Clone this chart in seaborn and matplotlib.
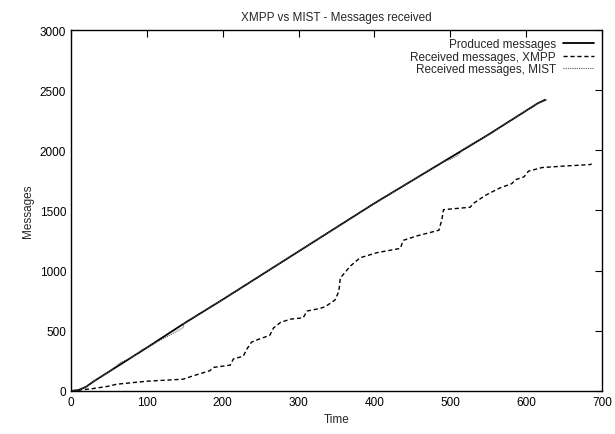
import numpy as np
import pandas as pd
import matplotlib
matplotlib.use("Agg")
import matplotlib.pyplot as plt
import seaborn as sns

# ---- data ----
prod_t = [0, 10, 20, 30, 50, 100, 150, 200, 250, 300, 350, 400, 450, 500, 550, 600, 615, 625]
prod_v = [0, 8, 35, 80, 160, 360, 565, 760, 960, 1160, 1360, 1560, 1750, 1940, 2130, 2330, 2390, 2420]

xmpp_t = [0, 29, 50, 60, 100, 148, 161, 183, 188, 210, 214, 227, 232, 238, 249, 262, 267, 276,
          289, 306, 311, 328, 335, 348, 353, 355, 368, 381, 403, 434, 438, 456, 485, 489, 491,
          526, 531, 546, 557, 566, 581, 586, 597, 603, 621, 654, 672, 685, 686]
xmpp_v = [0, 20, 40, 56, 81, 98, 126, 168, 196, 215, 266, 289, 350, 406, 434, 462, 524, 569,
          597, 608, 664, 686, 700, 756, 827, 939, 1037, 1107, 1149, 1185, 1252, 1289, 1336, 1429, 1507,
          1527, 1561, 1625, 1661, 1689, 1723, 1756, 1779, 1827, 1857, 1871, 1877, 1882, 1890]

mist_t = [0, 10, 20, 30, 50, 65, 75, 85, 92, 100, 120, 135, 148, 149, 200, 250, 300, 350, 400,
          450, 490, 500, 510, 517, 550, 600, 615, 628]
mist_v = [0, 8, 35, 80, 160, 235, 265, 300, 335, 360, 430, 480, 527, 565, 760, 960, 1160, 1360, 1560,
          1750, 1905, 1925, 1960, 2010, 2130, 2330, 2390, 2420]

labels = ["Produced messages", "Received messages, XMPP", "Received messages, MIST"]
x_ticks = [0, 100, 200, 300, 400, 500, 600, 700]
y_ticks = [0, 500, 1000, 1500, 2000, 2500, 3000]

sns.set_style("white")
plt.rcParams['font.family'] = ['Liberation Sans', 'DejaVu Sans']
plt.rcParams['font.size'] = 8.5

fig = plt.figure(figsize=(6.15, 4.35), dpi=100)
ax = fig.add_axes([0.1154, 0.0989, 0.979 - 0.1154, 0.9287 - 0.0989])

sns.lineplot(x=prod_t, y=prod_v, ax=ax, color="black", lw=1.3, linestyle="-",
             estimator=None, sort=False, label=labels[0])
sns.lineplot(x=xmpp_t, y=xmpp_v, ax=ax, color="black", lw=1.0, linestyle=(0, (3, 2)),
             estimator=None, sort=False, label=labels[1])
sns.lineplot(x=mist_t, y=mist_v, ax=ax, color="#555555", lw=0.8, linestyle=(0, (1, 1)),
             estimator=None, sort=False, label=labels[2])

ax.set_xlim(0, 700)
ax.set_ylim(0, 3000)
ax.set_xticks(x_ticks)
ax.set_yticks(y_ticks)
ax.tick_params(direction="in", length=5, width=0.8, top=True, right=True, labelsize=8.5,
               colors="black")
for s in ax.spines.values():
    s.set_color("black")
    s.set_linewidth(1.0)
ax.set_xlabel("Time", fontsize=8.5)
ax.set_ylabel("Messages", fontsize=8.5)
ax.set_title("XMPP vs MIST - Messages received", fontsize=8.5, pad=7)

leg = ax.legend(loc="upper right", frameon=False, markerfirst=False, fontsize=8.5,
                handlelength=2.6, handletextpad=0.6, labelspacing=0.05,
                borderaxespad=0.3)
for t in leg.get_texts():
    t.set_ha("right")
leg._legend_box.align = "right"

fig.savefig("out.png", dpi=100)
